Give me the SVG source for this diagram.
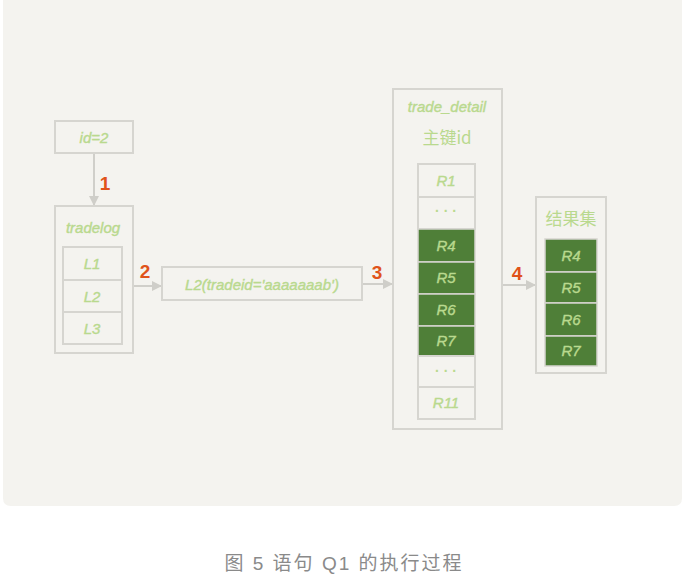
<svg xmlns="http://www.w3.org/2000/svg" width="687" height="576" viewBox="0 0 687 576">
<defs>
<style>
.box{fill:none;stroke:#d6d5d0;stroke-width:2}
.cell{fill:#f4f3ef;stroke:#d6d5d0;stroke-width:2}
.dcell{fill:#4f7f38;stroke:#d6d5d0;stroke-width:1.5}
.t{font-family:"Liberation Sans",sans-serif;font-style:italic;fill:#b9d98e;font-size:15px;text-anchor:middle;stroke:#b9d98e;stroke-width:0.4}
.tc{font-family:"Noto Sans CJK SC",sans-serif;fill:#b9d98e;font-size:17px;text-anchor:middle}
.td{font-family:"Liberation Sans",sans-serif;font-weight:bold;fill:#b9d98e;font-size:14px;text-anchor:middle}
.num{font-family:"Liberation Sans",sans-serif;font-weight:bold;fill:#e0531a;font-size:19px;text-anchor:middle}
.conn{stroke:#d0cfca;stroke-width:2;fill:none;marker-end:url(#ah)}
</style>
<marker id="ah" viewBox="0 0 10 10" refX="9" refY="5" markerWidth="5" markerHeight="5" orient="auto" markerUnits="strokeWidth">
<path d="M0,0 L10,5 L0,10 z" fill="#cfcec9"/>
</marker>
</defs>
<rect x="0" y="0" width="687" height="576" fill="#ffffff"/>
<path d="M3,0 H682 V498 Q682,506 674,506 H11 Q3,506 3,498 Z" fill="#f4f3ef"/>

<g id="connectors">
<line class="conn" x1="94" y1="153" x2="94" y2="205"/>
<line class="conn" x1="133" y1="286" x2="161" y2="286"/>
<line class="conn" x1="362" y1="284" x2="392" y2="284"/>
<line class="conn" x1="502" y1="285" x2="535" y2="285"/>
<text class="num" x="105" y="190">1</text>
<text class="num" x="145" y="278">2</text>
<text class="num" x="377" y="279">3</text>
<text class="num" x="517" y="280">4</text>
</g>

<g id="node-id2">
<rect class="box" x="55" y="121" width="78" height="32"/>
<text class="t" x="94" y="143">id=2</text>
</g>

<g id="node-tradelog">
<rect class="box" x="55" y="206" width="78" height="147"/>
<text class="t" x="93" y="233">tradelog</text>
<rect class="cell" x="63" y="247" width="59" height="33"/>
<rect class="cell" x="63" y="280" width="59" height="32"/>
<rect class="cell" x="63" y="312" width="59" height="32"/>
<text class="t" x="92" y="269">L1</text>
<text class="t" x="92" y="302">L2</text>
<text class="t" x="92" y="334">L3</text>
</g>

<g id="node-l2">
<rect class="box" x="162" y="267" width="200" height="33"/>
<text class="t" x="262" y="290">L2(tradeid='aaaaaaab')</text>
</g>

<g id="node-trade-detail">
<rect class="box" x="393" y="89" width="109" height="340"/>
<text class="t" x="447" y="112">trade_detail</text>
<text class="tc" x="447" y="144">主键id</text>
<rect class="cell" x="418" y="164" width="57" height="33"/>
<rect class="cell" x="418" y="197" width="57" height="32"/>
<rect class="dcell" x="418" y="229" width="57" height="33"/>
<rect class="dcell" x="418" y="262" width="57" height="32"/>
<rect class="dcell" x="418" y="294" width="57" height="32"/>
<rect class="dcell" x="418" y="326" width="57" height="30"/>
<rect class="cell" x="418" y="356" width="57" height="31"/>
<rect class="cell" x="418" y="387" width="57" height="32"/>
<text class="t" x="446" y="186">R1</text>
<text class="td" x="446" y="216">· · ·</text>
<text class="t" x="446" y="251">R4</text>
<text class="t" x="446" y="283">R5</text>
<text class="t" x="446" y="315">R6</text>
<text class="t" x="446" y="346">R7</text>
<text class="td" x="446" y="376">· · ·</text>
<text class="t" x="446" y="408">R11</text>
</g>

<g id="node-result">
<rect class="box" x="536" y="197" width="70" height="176"/>
<text class="tc" x="571" y="225">结果集</text>
<rect class="dcell" x="545" y="239" width="52" height="33"/>
<rect class="dcell" x="545" y="272" width="52" height="31"/>
<rect class="dcell" x="545" y="303" width="52" height="33"/>
<rect class="dcell" x="545" y="336" width="52" height="30"/>
<text class="t" x="571" y="261">R4</text>
<text class="t" x="571" y="293">R5</text>
<text class="t" x="571" y="325">R6</text>
<text class="t" x="571" y="356">R7</text>
</g>

<text x="344" y="570" font-family="Liberation Sans, Noto Sans CJK SC, sans-serif" font-size="19" letter-spacing="2" fill="#8a8a8a" text-anchor="middle">图 5 语句 Q1 的执行过程</text>
</svg>
